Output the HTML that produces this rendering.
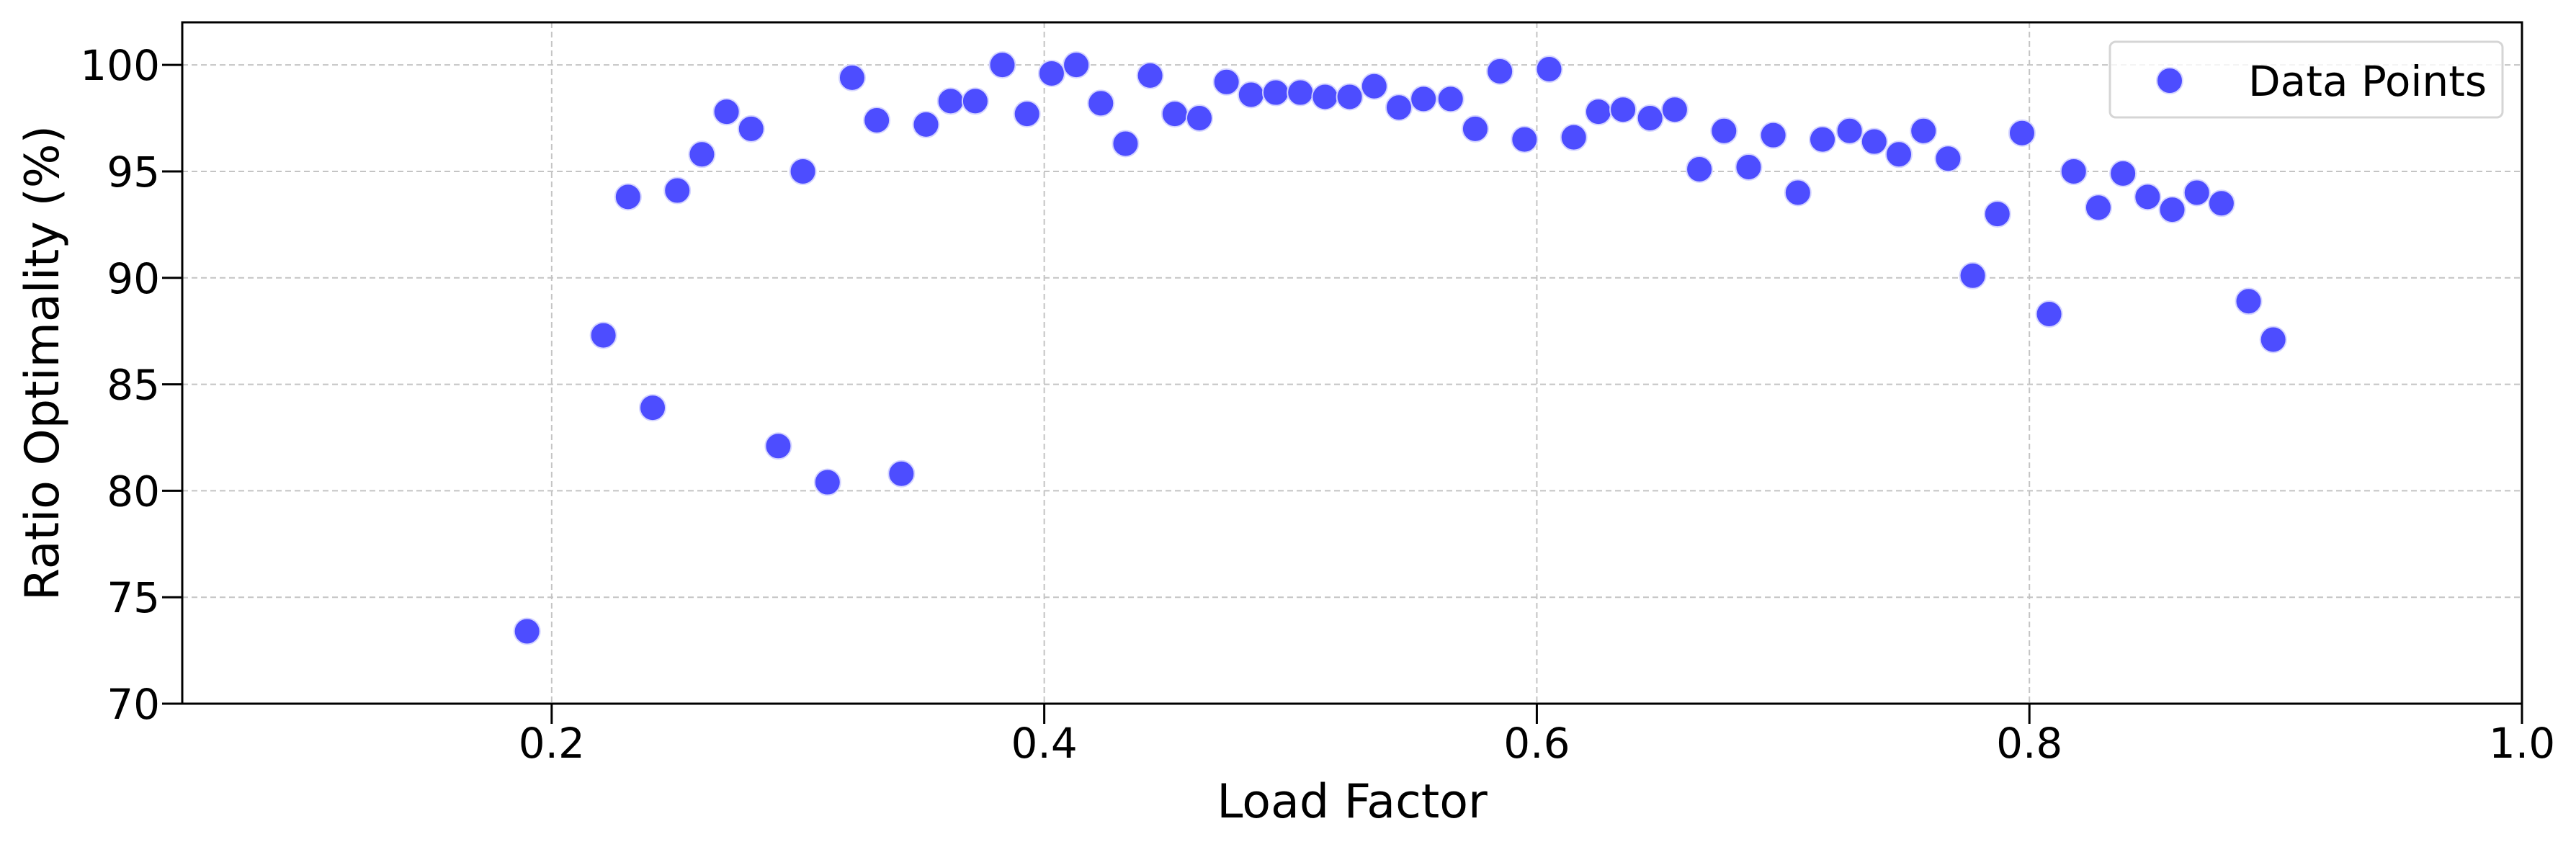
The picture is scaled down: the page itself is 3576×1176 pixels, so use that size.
<!DOCTYPE html>
<html><head><meta charset="utf-8"><style>
html,body{margin:0;padding:0;background:#fff;}
svg{display:block;font-family:"DejaVu Sans","Liberation Sans",sans-serif;}
</style></head><body>
<svg id="chart" width="3576" height="1176" viewBox="0 0 3576 1176" xmlns="http://www.w3.org/2000/svg">
<defs><clipPath id="plotclip"><rect x="253" y="31" width="3248" height="946"/></clipPath></defs>
<rect x="0" y="0" width="3576" height="1176" fill="#fff"/>
<g id="grid"></g>
<g id="points" clip-path="url(#plotclip)"></g>
<rect x="253" y="31" width="3248" height="946" fill="none" stroke="#000" stroke-width="3"/>
<g id="xticks"></g>
<g id="yticks"></g>
<text x="1877" y="1135" font-size="65" text-anchor="middle">Load Factor</text>
<text x="81" y="504" font-size="65" text-anchor="middle" transform="rotate(-90 81 504)">Ratio Optimality (%)</text>
<g>
<rect x="2929" y="58" width="545" height="105" rx="8" fill="#fff" fill-opacity="0.8" stroke="#d5d5d5" stroke-width="3"/>
<circle cx="3012" cy="112" r="18" fill="#4d4dff" stroke="#d4d4ff" stroke-width="2"/>
<text x="3121" y="133" font-size="58">Data Points</text>
</g>
</svg>
<script>
const loadFactors = [0.190,0.200,0.221,0.231,0.241,0.251,0.261,0.271,0.281,0.292,0.302,0.312,0.322,0.332,0.342,0.352,0.362,0.372,0.383,0.393,0.403,0.413,0.423,0.433,0.443,0.453,0.463,0.474,0.484,0.494,0.504,0.514,0.524,0.534,0.544,0.554,0.565,0.575,0.585,0.595,0.605,0.615,0.625,0.635,0.646,0.656,0.666,0.676,0.686,0.696,0.706,0.716,0.727,0.737,0.747,0.757,0.767,0.777,0.787,0.797,0.808,0.818,0.828,0.838,0.848,0.858,0.868,0.878,0.889,0.899];
const optimality = [73.4,69.4,87.3,93.8,83.9,94.1,95.8,97.8,97.0,82.1,95.0,80.4,99.4,97.4,80.8,97.2,98.3,98.3,100.0,97.7,99.6,100.0,98.2,96.3,99.5,97.7,97.5,99.2,98.6,98.7,98.7,98.5,98.5,99.0,98.0,98.4,98.4,97.0,99.7,96.5,99.8,96.6,97.8,97.9,97.5,97.9,95.1,96.9,95.2,96.7,94.0,96.5,96.9,96.4,95.8,96.9,95.6,90.1,93.0,96.8,88.3,95.0,93.3,94.9,93.8,93.2,94.0,93.5,88.9,87.1];
const xTickValues = [0.2,0.4,0.6,0.8,1.0];
const xTickLabels = ["0.2","0.4","0.6","0.8","1.0"];
const yTickValues = [70,75,80,85,90,95,100];
const yTickLabels = ["70","75","80","85","90","95","100"];

const NS = "http://www.w3.org/2000/svg";
const L=253,R=3501,T=31,B=977, XMIN=0.05,XMAX=1.0,YMIN=70,YMAX=102;
function sx(v){return L+(v-XMIN)/(XMAX-XMIN)*(R-L);}
function sy(v){return B-(v-YMIN)/(YMAX-YMIN)*(B-T);}
function mk(tag,attrs,parent){const e=document.createElementNS(NS,tag);for(const k in attrs)e.setAttribute(k,attrs[k]);parent.appendChild(e);return e;}
const grid=document.getElementById('grid'), pts=document.getElementById('points'), xt=document.getElementById('xticks'), yt=document.getElementById('yticks');
xTickValues.forEach((v,i)=>{
  const x=sx(v);
  const g=mk('line',{x1:x,x2:x,y1:T,y2:B,stroke:'#c4c4c4','stroke-width':2,'stroke-dasharray':'8 5'},grid);
  
  
  const t=mk('line',{x1:x,x2:x,y1:B,y2:B+28,stroke:'#000','stroke-width':3},xt);
  
  
  const lb=mk('text',{x:x,y:1052,'font-size':58,'text-anchor':'middle'},xt);
  lb.textContent=xTickLabels[i];
  
  
});
yTickValues.forEach((v,i)=>{
  const y=sy(v);
  const g=mk('line',{x1:L,x2:R,y1:y,y2:y,stroke:'#c4c4c4','stroke-width':2,'stroke-dasharray':'8 5'},grid);
  
  
  const t=mk('line',{x1:L-28,x2:L,y1:y,y2:y,stroke:'#000','stroke-width':3},yt);
  
  
  const lb=mk('text',{x:222,y:y+21,'font-size':58,'text-anchor':'end'},yt);
  lb.textContent=yTickLabels[i];
  
  
});
loadFactors.forEach((v,i)=>{
  const c=mk('circle',{cx:sx(v),cy:sy(optimality[i]),r:18,fill:'#4d4dff',stroke:'#d4d4ff','stroke-width':2},pts);
  
  
});
</script>
</body></html>
